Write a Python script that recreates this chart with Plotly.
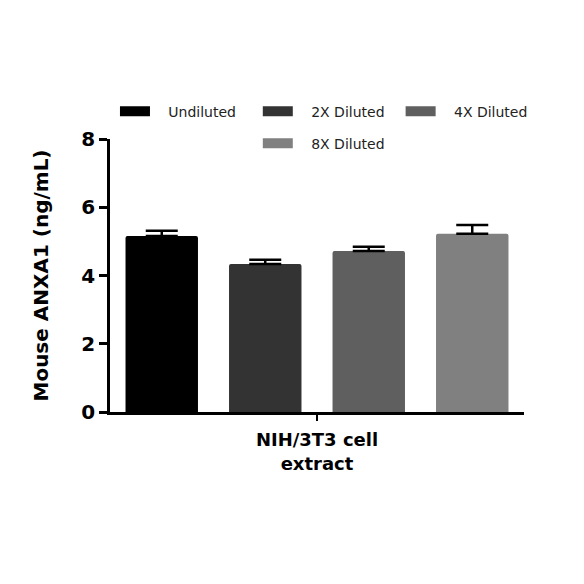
import plotly.graph_objects as go

category = ["NIH/3T3 cell<br>extract"]
series = ["Undiluted", "2X Diluted", "4X Diluted", "8X Diluted"]
means = [5.16, 4.34, 4.72, 5.22]
errors = [0.15, 0.12, 0.12, 0.26]
colors = ["#000000", "#333333", "#5f5f5f", "#808080"]
y_ticks = [0, 2, 4, 6, 8]

FONT = "DejaVu Sans"

fig = go.Figure()
for name, m, e, c in zip(series, means, errors, colors):
    fig.add_trace(go.Bar(
        x=category, y=[m], name=name, marker_color=c, marker_line_width=0,
        marker_cornerradius=2, showlegend=False,
        error_y=dict(type="data", symmetric=False, array=[e], arrayminus=[0],
                     color="#000000", thickness=2.5, width=16),
    ))

# legend entries drawn as wide line swatches, one legend per entry
legend_pos = [(0.012, 1.10), (0.357, 1.10), (0.702, 1.10), (0.357, 0.983)]
for i, (name, c) in enumerate(zip(series, colors)):
    fig.add_trace(go.Scatter(
        x=[None], y=[None], mode="lines", name="\u00a0\u00a0\u00a0" + name,
        line=dict(color=c, width=10),
        legend="legend" if i == 0 else f"legend{i + 1}",
    ))

legend_style = dict(orientation="h", xanchor="left", yanchor="middle",
                    font=dict(family=FONT, size=14, color="#222222"),
                    bgcolor="rgba(0,0,0,0)")
legends = {}
for i, (lx, ly) in enumerate(legend_pos):
    key = "legend" if i == 0 else f"legend{i + 1}"
    legends[key] = dict(x=lx, y=ly, **legend_style)

fig.update_layout(
    width=584, height=584,
    paper_bgcolor="white", plot_bgcolor="white",
    margin=dict(l=102, r=68, t=131, b=180, autoexpand=False),
    barmode="group", bargap=0.0, bargroupgap=0.3,
    font=dict(family=FONT, color="#000000"),
    yaxis=dict(
        range=[0, 8], tickvals=y_ticks, showgrid=False, zeroline=False,
        showline=True, linecolor="#000000", linewidth=2.5,
        ticks="outside", ticklen=8, tickwidth=2.5, tickcolor="#000000",
        ticklabelstandoff=0,
        tickfont=dict(family=FONT, size=20, color="#000000", weight="bold"),
        title=dict(text="<b>Mouse ANXA1 (ng/mL)</b>", standoff=28,
                   font=dict(family=FONT, size=20, color="#000000")),
    ),
    xaxis=dict(
        showgrid=False, zeroline=False, showline=True, linecolor="#000000",
        linewidth=2.5, ticks="outside", ticklen=6, tickwidth=2, tickcolor="#000000",
        ticklabelstandoff=4,
        tickfont=dict(family=FONT, size=18, color="#000000", weight="bold"),
    ),
    **legends,
)

fig.write_html("out.html")
